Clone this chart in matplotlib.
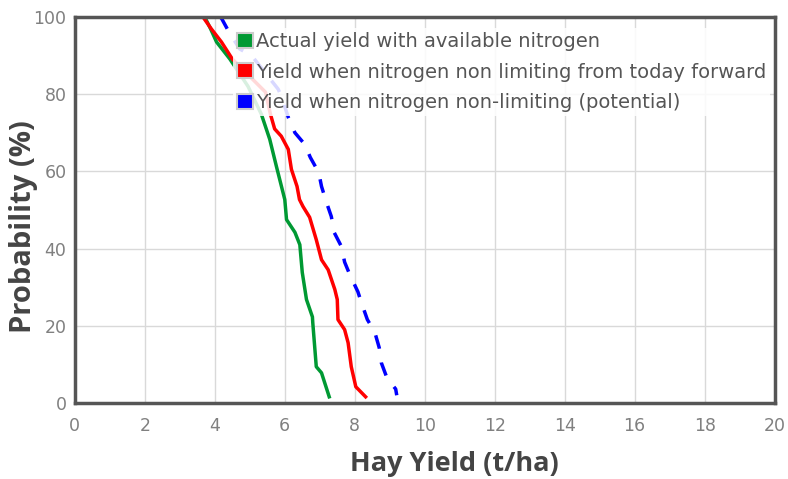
import matplotlib.pyplot as plt
from matplotlib.patches import Patch

plt.rcParams['font.family'] = ['DejaVu Sans']

# Probability (%) vs hay yield (t/ha)
actual_prob = [100, 96.9, 93.5, 89.1, 82.0, 74.8, 68.3, 61.3, 52.7, 47.5, 44.2, 41.0,
               33.8, 26.8, 22.3, 20.8, 9.4, 7.8, 1.6]
actual_yield = [3.71, 3.88, 4.05, 4.43, 4.95, 5.33, 5.57, 5.76, 6.0, 6.05, 6.29, 6.43,
                6.5, 6.62, 6.79, 6.8, 6.9, 7.05, 7.27]

fwd_prob = [100, 96.9, 93.5, 89.1, 80.5, 74.8, 71.0, 69.1, 65.7, 60.5, 56.1, 52.7, 50.9,
            48.1, 42.3, 37.1, 34.5, 29.4, 26.8, 21.6, 19.0, 15.6, 9.4, 4.2, 1.6]
fwd_yield = [3.66, 3.9, 4.19, 4.5, 5.45, 5.59, 5.71, 5.9, 6.1, 6.19, 6.35, 6.42, 6.52,
             6.71, 6.9, 7.05, 7.24, 7.43, 7.5, 7.52, 7.71, 7.81, 7.9, 8.03, 8.31]

pot_prob = [100, 99.5, 96.5, 91.7, 90, 81.3, 79.5, 74, 70, 67, 63.6, 59.7, 56.1, 52,
            48.3, 44.2, 40.5, 36.5, 33.2, 28.8, 26, 21.6, 18.4, 14.3, 10.4, 6.5, 3.6, 2]
pot_yield = [4.15, 4.2, 4.38, 4.71, 5.05, 5.81, 5.9, 6.1, 6.29, 6.57, 6.73, 6.97, 7.05,
             7.19, 7.33, 7.41, 7.62, 7.71, 7.86, 8.09, 8.19, 8.36, 8.57, 8.7, 8.76, 8.92,
             9.17, 9.2]

labels = ["Actual yield with available nitrogen",
          "Yield when nitrogen non limiting from today forward",
          "Yield when nitrogen non-limiting (potential)"]
colors = ["#009933", "#ff0000", "#0000ff"]

fig = plt.figure(figsize=(7.88, 4.79), dpi=100)
ax = fig.add_axes([0.095, 0.1587, 0.888, 0.806])

ax.plot(actual_yield, actual_prob, color=colors[0], lw=2.5)
ax.plot(fwd_yield, fwd_prob, color=colors[1], lw=2.5)
ax.plot(pot_yield, pot_prob, color=colors[2], lw=2.5, linestyle=(0, (4, 4)))

ax.set_xlim(0, 20)
ax.set_ylim(0, 100)
ax.set_xticks(range(0, 21, 2))
ax.set_yticks(range(0, 101, 20))
ax.grid(True, color="#d9d9d9", lw=1)
ax.set_axisbelow(True)
ax.tick_params(length=0, labelsize=12.5, colors="#808080")
ax.tick_params(axis="x", pad=10)
ax.tick_params(axis="y", pad=6)
for s in ax.spines.values():
    s.set_color("#555555")
    s.set_linewidth(2.5)

ax.set_xlabel("Hay Yield (t/ha)", fontsize=19.5, fontweight="bold", color="#444444",
              family="Open Sans")
ax.set_ylabel("Probability (%)", fontsize=21, fontweight="bold", color="#444444",
              family="Open Sans")
ax.xaxis.set_label_coords(0.543, -0.125)
ax.yaxis.set_label_coords(-0.052, 0.457)

handles = [Patch(facecolor=c, edgecolor="#cccccc", lw=1.5) for c in colors]
leg = ax.legend(handles, labels, loc="upper left", bbox_to_anchor=(0.226, 0.97),
                fontsize=14, frameon=True, framealpha=0.85, edgecolor="none",
                handlelength=0.82, handleheight=0.82, handletextpad=0.15,
                labelspacing=0.58, borderpad=0.2, borderaxespad=0, fancybox=False)
for t in leg.get_texts():
    t.set_color("#555555")

fig.savefig("out.png", dpi=100)
